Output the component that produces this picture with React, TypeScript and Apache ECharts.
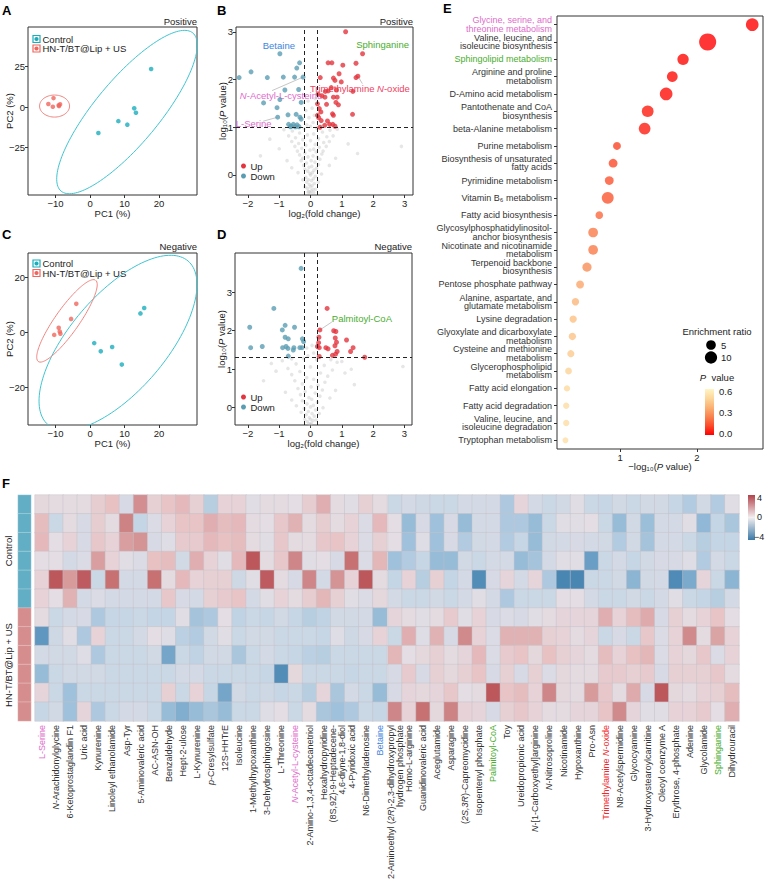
import React, { useEffect, useRef } from 'react';
import * as echarts from 'echarts';

const FONT = "'Liberation Sans', Arial, Helvetica, sans-serif";
const INK = '#222';
const TEAL = '#19AEBB';
const TEAL_LINE = '#3FC4CF';
const SALMON = '#F0665F';
const SALMON_LINE = '#F08580';
const UP = '#E3343F';
const DOWN = '#5A9DB3';

// ---------- A / C : PCA scores (PC1 %, PC2 %) ----------
const pcaPosControl = [[17.7, 23.5], [2.4, -16.0], [8.2, -8.7], [10.8, -10.9], [12.8, -0.8], [13.3, -3.5]];
const pcaPosTreated = [[-12.1, 1.9], [-10.6, 5.5], [-10.8, 0.2], [-9.0, 0.6], [-8.7, 1.7], [-9.1, 1.1]];
const pcaNegControl = [[15.7, 9.0], [14.6, 7.0], [1.2, -3.8], [3.1, -6.8], [6.4, -5.2], [9.2, -11.6]];
const pcaNegTreated = [[-4.0, 10.5], [-5.5, 5.0], [-9.1, 1.8], [-8.8, 0.4], [-8.6, -0.4], [-10.4, -0.8]];

// confidence ellipses: centre, half major-axis vector, half minor-axis vector (data units)
const ellPosControl = { center: [10.7, -3.1], major: [19.1, 48.8], minor: [7.1, -12.7] };
const ellPosTreated = { center: [-10.3, 0.6], major: [4.35, 0], minor: [0, 6.8] };
const ellNegControl = { center: [8.1, -3.7], major: [20.3, 29.8], minor: [10.6, -11.3] };
const ellNegTreated = { center: [-6.7, 4.3], major: [8.3, 14.8], minor: [2.84, -2.5] };

// ---------- B : volcano, positive mode (log2 FC, -log10 P) ----------
const upPos = [
  [1.12, 3.0], [1.66, 2.54], [0.56, 2.35], [0.68, 2.35], [1.03, 2.3], [1.45, 2.34],
  [0.31, 2.04], [0.73, 2.03], [0.78, 1.98], [0.91, 2.12], [0.98, 1.95], [1.45, 2.04], [1.51, 2.07],
  [0.47, 1.75], [0.56, 1.76], [0.66, 1.83], [0.83, 1.78], [1.35, 1.75],
  [0.24, 1.7], [0.36, 1.66], [0.73, 1.63], [0.85, 1.63], [0.81, 1.52], [0.46, 1.63],
  [0.22, 1.49], [0.51, 1.48], [0.89, 1.47],
  [0.28, 1.39], [0.33, 1.32], [0.7, 1.28], [0.73, 1.25], [1.34, 1.27],
  [0.26, 1.2], [0.34, 1.14], [0.54, 1.13], [0.61, 1.06], [0.71, 1.06], [0.78, 1.02], [0.22, 1.25], [0.3, 1.0], [0.45, 1.04],
];
const downPos = [
  [-0.98, 2.54], [-0.35, 2.35], [-0.44, 2.24],
  [-2.28, 2.04], [-1.9, 2.16], [-1.38, 2.04], [-0.87, 2.05], [-0.51, 2.05], [-0.24, 2.05],
  [-0.82, 1.78], [-0.38, 1.79], [-0.98, 1.58], [-1.5, 1.51], [-0.3, 1.52],
  [-1.07, 1.41], [-1.05, 1.21], [-0.72, 1.26], [-0.46, 1.27], [-0.34, 1.21], [-0.3, 1.17],
  [-0.7, 1.06], [-0.62, 1.02], [-0.55, 1.06], [-0.49, 1.01], [-0.43, 1.05], [-0.64, 1.01], [-0.37, 1.01],
];
const grayPos = [
  [-0.05, -0.35], [0.02, -0.33], [0.08, -0.3], [-0.1, -0.28], [0.0, -0.25], [0.05, -0.22], [-0.04, -0.2], [0.12, -0.18],
  [-0.12, -0.15], [0.03, -0.12], [-0.07, -0.1], [0.09, -0.08], [-0.15, -0.05], [0.15, -0.03], [0.0, 0.0], [-0.02, 0.03],
  [0.06, 0.05], [-0.09, 0.08], [0.11, 0.1], [-0.18, 0.12], [0.19, 0.14], [-0.05, 0.16], [0.04, 0.18], [-0.22, 0.2],
  [0.25, 0.22], [-0.13, 0.25], [0.14, 0.27], [-0.3, 0.3], [0.02, 0.3], [0.3, 0.33], [-0.25, 0.35], [0.22, 0.37],
  [-0.08, 0.38], [0.08, 0.4], [-0.35, 0.42], [0.36, 0.44], [-0.18, 0.46], [0.18, 0.48], [-0.42, 0.5], [0.4, 0.5],
  [-0.02, 0.52], [0.1, 0.54], [-0.28, 0.56], [0.28, 0.58], [-0.5, 0.6], [0.5, 0.6], [-0.15, 0.62], [0.15, 0.64],
  [-0.38, 0.66], [0.42, 0.68], [-0.6, 0.7], [0.6, 0.7], [0.0, 0.72], [-0.25, 0.74], [0.25, 0.76], [-0.48, 0.78],
  [0.52, 0.8], [-0.7, 0.82], [0.72, 0.82], [-0.1, 0.84], [0.1, 0.86], [-0.35, 0.88], [0.38, 0.9], [-0.58, 0.92],
  [0.62, 0.94], [-0.85, 0.95], [0.85, 0.96], [-0.2, 0.97], [0.2, 0.98], [-0.45, 0.99],
  [-0.12, 1.05], [0.08, 1.1], [-0.05, 1.2], [0.12, 1.25], [-0.15, 1.35], [0.05, 1.4], [-0.08, 1.55], [0.15, 1.6], [0.0, 1.02],
  [-1.3, 0.75], [1.2, 0.65], [-1.0, 0.55], [2.9, 0.6], [-1.6, 0.4], [1.5, 0.45], [-0.75, 0.3], [0.8, 0.35],
  [-0.6, 0.15], [0.6, 0.2], [-0.4, 0.05], [0.35, 0.02], [-0.25, -0.1], [0.25, -0.15], [-0.18, -0.25], [0.16, -0.3],
  [0.0, -0.38], [-0.08, -0.36], [0.1, -0.37],
];

// ---------- D : volcano, negative mode ----------
const upNeg = [
  [0.53, 2.58], [0.3, 2.02], [0.74, 2.0], [0.81, 1.98], [0.27, 1.83], [0.79, 1.81], [1.15, 1.76], [0.26, 1.69], [0.83, 1.7],
  [0.22, 1.59], [0.28, 1.56], [0.49, 1.56], [0.56, 1.53], [0.78, 1.61], [1.36, 1.56], [1.28, 1.46], [0.85, 1.46],
  [0.8, 1.39], [0.7, 1.36], [0.28, 1.33], [1.73, 1.31],
];
const downNeg = [
  [-0.3, 3.62], [-1.17, 2.58], [-1.94, 2.09], [-0.81, 2.14], [-0.51, 2.09], [-0.9, 2.02], [-0.81, 1.83], [-0.71, 1.79],
  [-0.26, 1.79], [-0.22, 1.72], [-1.91, 1.56], [-1.54, 1.59], [-0.89, 1.56], [-0.78, 1.59], [-0.72, 1.54], [-0.53, 1.56],
  [-0.55, 1.5], [-0.34, 1.56], [-0.27, 1.56], [-0.71, 1.34],
];
const grayNeg = [
  [-0.05, -0.42], [0.03, -0.4], [-0.1, -0.36], [0.08, -0.33], [0.0, -0.3], [-0.04, -0.26], [0.12, -0.22], [-0.14, -0.18],
  [0.05, -0.15], [-0.07, -0.1], [0.16, -0.06], [-0.2, -0.02], [0.0, 0.02], [0.09, 0.06], [-0.11, 0.1], [0.22, 0.14],
  [-0.26, 0.18], [0.04, 0.22], [-0.05, 0.26], [0.3, 0.3], [-0.32, 0.34], [0.15, 0.38], [-0.17, 0.42], [0.38, 0.46],
  [-0.4, 0.5], [0.02, 0.54], [0.24, 0.58], [-0.26, 0.62], [0.46, 0.66], [-0.5, 0.7], [0.1, 0.74], [-0.12, 0.78],
  [0.55, 0.82], [-0.6, 0.86], [0.32, 0.9], [-0.34, 0.94], [0.7, 0.98], [-0.72, 1.02], [0.0, 1.06], [0.44, 1.1],
  [-0.46, 1.14], [0.85, 1.18], [-0.9, 1.22], [0.2, 1.25], [-0.22, 1.28],
  [-0.08, 1.35], [0.1, 1.42], [-0.12, 1.55], [0.05, 1.62],
  [1.1, 0.9], [-1.1, 0.95], [1.4, 0.6], [-1.5, 0.7], [2.95, 1.07], [-0.8, 0.4], [0.8, 0.45], [-0.6, 0.2], [0.62, 0.25],
  [-0.45, 0.05], [0.4, 0.0], [-0.3, -0.12], [0.28, -0.15], [-0.18, -0.3], [0.18, -0.32], [0.0, -0.44],
  [1.0, 1.2], [-1.25, 1.15], [0.65, 1.25], [-0.6, 1.27], [1.3, 1.0],
];

// ---------- E : pathway enrichment ----------
const pathwayNames = [
  'Glycine, serine, and\nthreonine metabolism',
  'Valine, leucine, and\nisoleucine biosynthesis',
  'Sphingolipid metabolism',
  'Arginine and proline\nmetabolism',
  'D-Amino acid metabolism',
  'Pantothenate and CoA\nbiosynthesis',
  'beta-Alanine metabolism',
  'Purine metabolism',
  'Biosynthesis of unsaturated\nfatty acids',
  'Pyrimidine metabolism',
  'Vitamin B\u2086 metabolism',
  'Fatty acid biosynthesis',
  'Glycosylphosphatidylinositol-\nanchor biosynthesis',
  'Nicotinate and nicotinamide\nmetabolism',
  'Terpenoid backbone\nbiosynthesis',
  'Pentose phosphate pathway',
  'Alanine, aspartate, and\nglutamate metabolism',
  'Lysine degradation',
  'Glyoxylate and dicarboxylate\nmetabolism',
  'Cysteine and methionine\nmetabolism',
  'Glycerophospholipid\nmetabolism',
  'Fatty acid elongation',
  'Fatty acid degradation',
  'Valine, leucine, and\nisoleucine degradation',
  'Tryptophan metabolism',
];
const pathwayNegLogP = [2.72, 2.14, 1.82, 1.68, 1.6, 1.36, 1.32, 0.96, 0.91, 0.86, 0.84, 0.73, 0.65, 0.65, 0.57, 0.48, 0.42, 0.39, 0.38, 0.36, 0.33, 0.31, 0.3, 0.3, 0.29];
const pathwayRatio = [10.9, 24, 8.0, 6.9, 10.9, 8.8, 8.8, 2.6, 3.6, 3.6, 9.3, 2.3, 5.1, 5.1, 4.2, 2.6, 2.0, 2.0, 2.0, 1.8, 1.5, 1.1, 1.1, 1.1, 0.8];
const pathwayTone = ['#E06CCB', '#333', '#49AD2E'];

// ---------- F : heatmap of z-scored metabolites ----------
const leftMetabolites = [
  'L-Serine', '*N*-Arachidonylglycine', '6-Ketoprostaglandin F1', 'Uric acid', 'Kynurenine', 'Linoleyl ethanolamide',
  'Asp-Tyr', '5-Aminovaleric acid', 'AC-ASN-OH', 'Benzaldehyde', 'Hept-2-ulose', 'L-Kynurenine', '*p*-Cresylsulfate',
  '12S-HHTrE', 'Isoleucine', '1-Methylhypoxanthine', '3-Dehydrosphingosine', 'L-Threonine', '*N*-Acetyl-L-cysteine',
  '2-Amino-1,3,4-octadecanetriol', 'Hexahydropyridine', '(8S,9Z)-9-Heptadecene-\n4,6-diyne-1,8-diol', '4-Pyridoxic acid',
  'N6-Dimethyladenosine', 'Betaine',
];
const rightMetabolites = [
  '2-Aminoethyl (*2R*)-2,3-dihydroxypropyl\nhydrogen phosphate', 'Homo-L-arginine', 'Guanidinovaleric acid', 'Aceglutamide',
  'Asparagine', '(*2S,3R*)-Capreomycidine', 'Isopentenyl phosphate', 'Palmitoyl-CoA', 'Toy', 'Ureidopropionic acid',
  '*N*-[1-Carboxyethyl]arginine', '*N*-Nitrosoproline', 'Nicotinamide', 'Hypoxanthine', 'Pro-Asn', 'Trimethylamine *N*-oxide',
  'N8-Acetylspermidine', 'Glycocyamine', '3-Hydroxystearoylcarnitine', 'Oleoyl coenzyme A', 'Erythrose, 4-phosphate',
  'Adenine', 'Glycolamide', 'Sphinganine', 'Dihydrouracil',
];
const highlighted: Record<string, string> = {
  'L-Serine': 'p', '*N*-Acetyl-L-cysteine': 'p', 'Betaine': 'b', 'Palmitoyl-CoA': 'g',
  'Trimethylamine *N*-oxide': 'r', 'Sphinganine': 'g',
};
// sample groups: first six rows Control, last six HN-T/BT@Lip + US
const sampleGroup = [0, 0, 0, 0, 0, 0, 1, 1, 1, 1, 1, 1];
const heatLeft = [
  [0.2, 0.1, 0.1, 0.1, 0.6, 1.0, -0.4, 2.3, 0.5, 0.9, 1.2, 0.5, -1.3, 0.4, 0.4, -0.1, 0.1, 0.1, 0.0, 0.6, 1.5, 0.1, -0.1, 0.5, 0.1],
  [1.1, -0.8, 0.1, -0.4, 0.6, 0.1, 2.6, -1.0, -0.3, 0.4, 0.9, 0.9, 1.5, 1.1, 1.2, 0.1, 0.0, 0.8, 1.4, 0.1, 0.6, 0.1, 0.4, -0.3, 1.2],
  [1.2, 0.0, 0.4, -0.4, 0.8, 0.4, 1.9, 2.2, -0.4, -0.2, 0.7, 0.7, 1.2, 1.0, 1.1, 0.1, -0.1, 0.8, 0.1, 0.1, 0.8, 0.9, 0.4, -0.3, 0.5],
  [0.0, 0.0, -0.5, -0.3, 1.9, 0.4, -0.1, -0.3, 1.0, 1.1, -0.6, 1.5, 0.4, -0.1, 1.2, 3.6, 0.1, 0.8, 2.5, -0.1, 0.0, -0.4, 3.0, -0.3, 1.3],
  [0.4, 3.6, 2.0, 3.5, -0.8, 3.0, -0.5, -0.5, 3.0, 0.1, 1.2, 0.4, 0.5, 0.5, -0.7, -0.1, 3.5, 0.1, -0.4, 2.5, -0.5, 2.2, 0.4, 3.6, 0.1],
  [0.4, 0.0, 1.4, -0.5, -0.3, -0.5, -0.5, -0.5, -0.5, 0.8, -0.4, -0.5, 0.5, 0.7, 0.9, -0.5, -0.1, 0.4, 0.1, 0.6, 1.3, 0.5, -0.1, -0.3, 0.2],
  [0.1, -0.8, -0.5, -0.4, -1.5, -0.9, -0.9, -0.8, -1.0, -1.0, -0.1, -1.7, -1.5, 0.0, -1.1, -0.8, -0.9, -0.6, -0.9, -1.3, -1.1, -0.6, -0.6, -0.5, -2.0],
  [-3.0, -0.7, -0.1, -1.5, 0.4, -0.8, -0.8, -0.5, 0.0, -0.2, -1.2, -1.4, -0.6, -0.1, -0.8, -0.6, -0.6, -0.8, -0.8, -0.8, -0.9, -0.2, -0.7, -0.4, 0.4],
  [-0.5, -0.6, -0.6, -0.2, -1.5, -0.8, -0.8, -0.8, -0.6, -2.6, -0.8, -1.1, -0.6, -0.6, -1.6, -0.8, -0.5, -0.8, -0.9, -1.2, -1.3, -0.8, -0.8, -0.8, -0.8],
  [-2.0, -0.8, -0.6, -0.6, -0.6, -0.8, -0.8, -0.8, -0.8, -0.8, -0.5, -0.5, -0.8, -0.8, -0.8, -0.8, -0.9, -3.4, 0.2, -0.8, -0.8, -0.8, -0.9, -0.8, -0.8],
  [0.3, -0.8, -1.8, -0.8, -0.8, -0.8, -0.8, -0.8, -0.8, 0.5, -0.8, 0.4, -0.9, -2.6, -0.6, -0.8, -0.7, -0.9, -0.8, -1.3, 0.3, -1.6, -0.5, -0.8, -2.0],
  [-0.9, -0.6, -1.8, 0.3, -1.5, -0.8, -0.5, -0.5, -0.8, -2.0, -2.4, -2.0, -1.6, -2.0, -0.8, -0.8, -0.2, 0.0, -0.8, 0.1, -1.6, -1.8, -1.5, -0.8, -0.9],
];
const heatRight = [
  [-0.8, -0.5, -0.7, -0.8, -0.8, -0.5, -0.5, -0.5, -1.5, 0.3, -0.5, -0.8, -0.6, -0.1, -0.8, -0.9, -0.6, -0.8, -0.6, -0.6, -0.9, -1.4, -0.6, -1.4, -0.1],
  [0.0, -2.0, -0.4, -1.8, -0.4, -2.0, -0.5, -0.5, -1.5, -1.5, -2.0, -0.8, -0.1, -0.1, 0.0, -0.8, -2.0, -0.6, -1.9, -0.5, -0.5, -0.1, -2.1, -1.0, -1.6],
  [0.0, -1.8, -0.2, -1.8, -0.4, -1.4, -0.6, -0.5, -1.4, -0.9, -2.0, -0.6, -0.5, -0.4, -0.5, -0.6, -1.4, -0.6, -1.7, -0.5, -0.5, -0.8, -1.3, -1.0, -1.0],
  [-1.8, -1.4, -0.9, -2.0, -2.0, -0.6, -0.8, -0.5, -0.5, -2.0, -1.7, -0.5, -0.1, -0.1, -2.8, -0.8, -0.5, -0.9, -0.6, -0.4, -0.4, -0.2, -1.4, -0.5, -0.8],
  [-1.0, 0.4, -1.3, 0.5, -1.0, -0.5, -3.4, -0.4, 0.3, -0.5, 0.3, -1.5, -3.7, -3.7, -0.8, -0.8, -0.6, -2.2, -0.6, -0.5, -3.5, -2.5, 0.3, -0.8, -2.2],
  [-0.5, -0.8, -0.8, -0.6, -0.8, -0.5, -0.1, -0.5, -1.5, -0.8, -0.8, -0.8, 0.0, 0.0, -0.5, -0.8, -0.8, -0.6, -0.8, -0.5, -0.1, -0.8, -1.0, -1.3, -0.5],
  [0.3, 0.1, -0.1, 0.1, 0.7, -0.1, 0.4, -0.4, -0.3, -0.4, -0.1, 0.1, 0.3, 0.3, 0.3, 1.5, 0.4, 1.1, 1.6, -0.4, 0.5, 0.1, 0.4, 0.9, 0.0],
  [-0.8, 1.5, -0.2, 1.4, -0.4, 2.4, 0.4, -0.3, 1.4, 1.4, 1.4, 0.5, 0.4, 0.1, 0.3, -0.8, -0.4, -0.8, 0.8, -0.3, 0.4, 2.4, 0.1, 1.8, 0.4],
  [1.3, 0.0, 0.2, 0.5, 0.1, 0.3, 1.2, -0.3, 0.7, 0.9, 0.2, 1.0, 0.5, 0.3, 0.1, 1.1, 0.4, 1.0, 1.3, -0.3, 0.4, 0.2, 0.8, -0.3, 0.4],
  [-0.4, 0.7, -0.4, 0.5, 0.2, 0.5, 0.9, -0.4, 0.5, -0.4, 0.5, -0.3, 0.2, 0.1, 0.1, 0.7, 0.7, 0.5, 0.7, -0.4, 0.5, 0.5, 0.5, 0.8, 0.1],
  [-0.4, 0.3, 0.2, 0.3, 0.8, 0.0, 0.1, 3.6, 0.9, 1.1, 0.4, 2.5, 0.2, 0.1, 2.0, 0.8, 0.1, 1.6, -0.4, 3.6, 0.2, 0.1, 0.4, 0.5, 1.1],
  [2.5, 0.4, 3.0, 0.2, 2.6, 0.4, 0.3, -0.4, 0.5, 0.8, 0.4, 0.1, 0.1, 0.3, 0.3, 0.9, 2.4, 0.3, -0.1, -0.1, 0.4, 0.4, 0.7, 0.0, 1.5],
];

// labelled metabolites on the volcano plots
const volcanoNotes = [
  { grid: 1, point: [-0.98, 2.54], text: 'Betaine', color: '#3D86E0', dx: -1, dy: -8 },
  { grid: 1, point: [1.66, 2.54], text: 'Sphinganine', color: '#49AD2E', dx: 20, dy: -9 },
  { grid: 1, point: [-0.24, 2.05], text: '{i|N}-Acetyl-L-cysteine', color: '#E06CCB', dx: -22, dy: 18, line: [-31, 13.5] },
  { grid: 1, point: [1.51, 2.07], text: 'Trimethylamine {i|N}-oxide', color: '#EE4262', dx: 2, dy: 12, line: [4.5, 7.5] },
  { grid: 1, point: [-1.05, 1.21], text: 'L-Serine', color: '#E06CCB', dx: -24, dy: 6, line: [-14.5, 4] },
  { grid: 3, point: [0.3, 2.02], text: 'Palmitoyl-CoA', color: '#49AD2E', dx: 42, dy: -11, line: [12, -8] },
];

const HEAT_COLORS = ['#3F7FAC', '#5F97C0', '#97BCD8', '#C4D5E5', '#E4DEE4', '#E8C1C3', '#D79B9C', '#C77173', '#B5454C'];
const P_COLORS = ['#FF0000', '#FB4A2A', '#F9834E', '#FBB173', '#FDD79B', '#FFF5C4'];
const toneColor: Record<string, string> = { k: '#333', p: '#E06CCB', b: '#3D7FE0', g: '#49AD2E', r: '#F0282C' };

const dotSize = (ratio: number) => 3.4 + 2.8 * Math.sqrt(ratio);

function ellipsePoints(e: { center: number[]; major: number[]; minor: number[] }) {
  const pts: number[][] = [];
  for (let k = 0; k <= 144; k++) {
    const t = (k / 144) * Math.PI * 2;
    pts.push([
      e.center[0] + e.major[0] * Math.cos(t) + e.minor[0] * Math.sin(t),
      e.center[1] + e.major[1] * Math.cos(t) + e.minor[1] * Math.sin(t),
    ]);
  }
  return pts;
}

function richLabel(label: string) {
  const tone = highlighted[label] || 'k';
  return label
    .split('*')
    .map((part, k) => (part ? `{${tone}${k % 2 ? 'I' : 'N'}|${part}}` : ''))
    .join('');
}

function heatRich(size: number) {
  const rich: Record<string, any> = {};
  Object.keys(toneColor).forEach((t) => {
    rich[t + 'N'] = { color: toneColor[t], fontSize: size, fontFamily: FONT, lineHeight: size };
    rich[t + 'I'] = { color: toneColor[t], fontSize: size, fontFamily: FONT, lineHeight: size, fontStyle: 'italic' };
  });
  return rich;
}

const nameRich = (size: number) => ({
  n: { fontSize: size, fontFamily: FONT, color: INK },
  i: { fontSize: size, fontFamily: FONT, color: INK, fontStyle: 'italic' },
});

function valAxis(gridIndex: number, min: number, max: number, ticks: number[], extra: any = {}) {
  return {
    type: 'value',
    gridIndex,
    min,
    max,
    splitLine: { show: false },
    axisLine: { show: false, onZero: false },
    axisTick: { show: true, length: 3, customValues: ticks, lineStyle: { color: '#333', width: 1 } },
    axisLabel: {
      customValues: ticks,
      fontSize: 9.5,
      color: INK,
      fontFamily: FONT,
      margin: 3,
      formatter: (v: number) => (v < 0 ? '\u2212' : '') + Math.abs(v),
    },
    nameLocation: 'middle',
    nameMoveOverlap: false,
    nameTextStyle: { fontSize: 9.5, color: INK, fontFamily: FONT, rich: nameRich(9.5) },
    ...extra,
  };
}

function catAxis(gridIndex: number, data: string[], extra: any = {}) {
  return {
    type: 'category',
    gridIndex,
    data,
    splitLine: { show: false },
    axisLine: { show: false },
    axisTick: { show: false },
    axisLabel: { show: false },
    ...extra,
  };
}

function buildOption() {
  const series: any[] = [];
  const add = (s: any) => {
    series.push({ silent: true, ...s });
    return series.length - 1;
  };
  const pcaScatter = (g: number, data: number[][], color: string) =>
    add({ type: 'scatter', xAxisIndex: g, yAxisIndex: g, data, symbolSize: 4.6, itemStyle: { color } });
  const ellipse = (g: number, e: any, color: string) =>
    add({
      type: 'line', xAxisIndex: g, yAxisIndex: g, data: ellipsePoints(e), showSymbol: false, symbol: 'none',
      clip: true, lineStyle: { color, width: 1 },
    });

  // A, C
  ellipse(0, ellPosControl, TEAL_LINE);
  ellipse(0, ellPosTreated, SALMON_LINE);
  pcaScatter(0, pcaPosControl, TEAL);
  pcaScatter(0, pcaPosTreated, SALMON);
  ellipse(2, ellNegControl, TEAL_LINE);
  ellipse(2, ellNegTreated, SALMON_LINE);
  pcaScatter(2, pcaNegControl, TEAL);
  pcaScatter(2, pcaNegTreated, SALMON);

  // B, D
  const volcano = (g: number, gray: number[][], down: number[][], up: number[][], pCut: number) => {
    add({
      type: 'scatter', xAxisIndex: g, yAxisIndex: g, data: gray, symbolSize: 3.6,
      itemStyle: { color: 'rgba(185,185,185,0.45)' },
      markLine: {
        silent: true, symbol: 'none', label: { show: false },
        lineStyle: { type: [4, 3], color: '#222', width: 1 },
        data: [{ xAxis: -0.2 }, { xAxis: 0.2 }, { yAxis: pCut }],
      },
    });
    add({ type: 'scatter', xAxisIndex: g, yAxisIndex: g, data: down, symbolSize: 5, itemStyle: { color: DOWN } });
    add({ type: 'scatter', xAxisIndex: g, yAxisIndex: g, data: up, symbolSize: 5, itemStyle: { color: UP } });
  };
  volcano(1, grayPos, downPos, upPos, 1);
  volcano(3, grayNeg, downNeg, upNeg, 1.3);

  // E
  const eIdx = add({
    type: 'scatter', xAxisIndex: 4, yAxisIndex: 4,
    data: pathwayNames.map((_, i) => [pathwayNegLogP[i], i, pathwayRatio[i], Math.pow(10, -pathwayNegLogP[i])]),
    symbolSize: (v: number[]) => dotSize(v[2]),
  });

  // F
  const cells = (m: number[][]) => m.flatMap((row, r) => row.map((v, c) => [c, r, v]));
  const heatStyle = { borderColor: 'rgba(196,194,200,0.9)', borderWidth: 0.5 };
  const hl = add({ type: 'heatmap', xAxisIndex: 5, yAxisIndex: 5, data: cells(heatLeft), itemStyle: heatStyle });
  const hr = add({ type: 'heatmap', xAxisIndex: 6, yAxisIndex: 6, data: cells(heatRight), itemStyle: heatStyle });
  const ann = add({
    type: 'heatmap', xAxisIndex: 7, yAxisIndex: 7, data: sampleGroup.map((g, r) => [0, r, g]),
    itemStyle: { borderColor: 'rgba(255,255,255,0.55)', borderWidth: 0.5 },
  });

  const rows = sampleGroup.map((_, i) => 'S' + (i + 1));
  const box = { show: true, borderColor: '#333', borderWidth: 1, backgroundColor: 'transparent', containLabel: false, outerBoundsMode: 'none' };
  const plain = { show: false, containLabel: false, outerBoundsMode: 'none' };
  const heatX = (g: number, names: string[]) =>
    catAxis(g, names, {
      axisLabel: {
        show: true, interval: 0, rotate: 90, margin: 4, fontSize: 9, fontFamily: FONT, color: '#333',
        formatter: (v: string) => richLabel(v), rich: heatRich(9),
      },
    });

  return {
    animation: false,
    backgroundColor: '#ffffff',
    textStyle: { fontFamily: FONT },
    grid: [
      { left: 28, top: 27, width: 169, height: 168, ...box },
      { left: 236, top: 27, width: 177, height: 168, ...box },
      { left: 28, top: 253, width: 169, height: 172, ...box },
      { left: 235, top: 253, width: 177, height: 172, ...box },
      { left: 557, top: 16, width: 206, height: 433, ...box },
      { left: 35, top: 495, width: 352, height: 226, ...plain },
      { left: 388, top: 495, width: 351, height: 226, ...plain },
      { left: 18, top: 495, width: 13, height: 226, ...plain },
    ],
    xAxis: [
      valAxis(0, -18, 31, [-10, 0, 10, 20], { name: 'PC1 (%)', nameGap: 13 }),
      valAxis(1, -2.38, 3.27, [-2, -1, 0, 1, 2, 3], { name: 'log\u2082(fold change)', nameGap: 13 }),
      valAxis(2, -18, 31, [-10, 0, 10, 20], { name: 'PC1 (%)', nameGap: 13 }),
      valAxis(3, -2.41, 3.24, [-2, -1, 0, 1, 2, 3], { name: 'log\u2082(fold change)', nameGap: 13 }),
      valAxis(4, 0.18, 2.86, [1, 2], { name: '{n|\u2212log\u2081\u2080(}{i|P}{n| value)}', nameGap: 12 }),
      heatX(5, leftMetabolites),
      heatX(6, rightMetabolites),
      catAxis(7, ['group']),
    ],
    yAxis: [
      valAxis(0, -54.3, 49.4, [-25, 0, 25], { name: 'PC2 (%)', nameGap: 13.5 }),
      valAxis(1, -0.42, 3.1, [0, 1, 2, 3], { name: '{n|log\u2081\u2080(}{i|P}{n| value)}', nameGap: 9 }),
      valAxis(2, -33.6, 29, [-20, 0, 20], { name: 'PC2 (%)', nameGap: 13.5 }),
      valAxis(3, -0.45, 4.02, [0, 1, 2, 3], { name: '{n|log\u2081\u2080(}{i|P}{n| value)}', nameGap: 9 }),
      catAxis(4, pathwayNames, {
        inverse: true,
        axisTick: { show: true, alignWithLabel: true, length: 3, lineStyle: { color: '#333' } },
        axisLabel: {
          show: true, interval: 0, fontSize: 9, lineHeight: 8.5, margin: 5, fontFamily: FONT,
          color: (_: string, i: number) => (i < 3 ? pathwayTone[i] : '#333'),
        },
      }),
      catAxis(5, rows, { inverse: true }),
      catAxis(6, rows, { inverse: true }),
      catAxis(7, rows, { inverse: true }),
    ],
    visualMap: [
      { type: 'continuous', show: false, min: -4, max: 4, dimension: 2, seriesIndex: [hl, hr], inRange: { color: HEAT_COLORS } },
      {
        type: 'piecewise', show: false, dimension: 2, seriesIndex: [ann],
        pieces: [{ value: 0, color: '#62AEC5' }, { value: 1, color: '#D68D8E' }],
      },
      { type: 'continuous', show: false, min: 0, max: 0.6, dimension: 3, seriesIndex: [eIdx], inRange: { color: P_COLORS } },
    ],
    series,
  };
}

function buildGraphics(chart: any) {
  const g: any[] = [];
  const text = (x: number, y: number, t: string, style: any = {}) =>
    g.push({
      type: 'text', x, y, silent: true,
      style: { text: t, fill: INK, fontSize: 9.5, fontFamily: FONT, align: 'left', verticalAlign: 'middle', ...style },
    });

  // panel letters
  ([['A', 2, 10], ['B', 217, 10], ['C', 2, 234], ['D', 217, 234], ['E', 443, 8], ['F', 2, 483]] as any[]).forEach(
    ([t, x, y]) => text(x, y, t, { fontSize: 13, fontWeight: 'bold', fill: '#000' }),
  );
  // ionisation mode tags
  text(197, 21, 'Positive', { align: 'right' });
  text(413, 21, 'Positive', { align: 'right' });
  text(197, 246, 'Negative', { align: 'right' });
  text(412, 246, 'Negative', { align: 'right' });

  // PCA legends
  const pcaLegend = (y0: number) => {
    [
      { y: y0, fill: TEAL, label: 'Control' },
      { y: y0 + 9.5, fill: SALMON, label: 'HN-T/BT@Lip + US' },
    ].forEach((it) => {
      g.push({
        type: 'rect', silent: true, shape: { x: 33, y: it.y - 3.5, width: 7, height: 7 },
        style: { fill: 'rgba(255,255,255,0.6)', stroke: it.fill, lineWidth: 1.2 },
      });
      g.push({ type: 'circle', silent: true, shape: { cx: 36.5, cy: it.y, r: 2.1 }, style: { fill: it.fill } });
      text(42.5, it.y, it.label);
    });
  };
  pcaLegend(39);
  pcaLegend(263.5);

  // volcano legends
  const volLegend = (y0: number) => {
    g.push({ type: 'circle', silent: true, shape: { cx: 243.5, cy: y0, r: 2.5 }, style: { fill: UP } });
    g.push({ type: 'circle', silent: true, shape: { cx: 243.5, cy: y0 + 10, r: 2.5 }, style: { fill: DOWN } });
    text(250.5, y0, 'Up');
    text(250.5, y0 + 10, 'Down');
  };
  volLegend(166);
  volLegend(397);

  // volcano annotations anchored on their data points
  volcanoNotes.forEach((n: any) => {
    const [px, py] = chart.convertToPixel({ gridIndex: n.grid }, n.point);
    if (n.line) {
      g.push({
        type: 'line', silent: true,
        shape: { x1: px, y1: py, x2: px + n.line[0], y2: py + n.line[1] },
        style: { stroke: '#A0A0A0', lineWidth: 0.6 },
      });
    }
    g.push({
      type: 'text', silent: true, x: px + n.dx, y: py + n.dy,
      style: {
        text: n.text, fill: n.color, fontSize: 9.5, fontFamily: FONT, align: 'center', verticalAlign: 'middle',
        rich: { i: { fontSize: 9.5, fontFamily: FONT, fill: n.color, fontStyle: 'italic' } },
      },
    });
  });

  // enrichment legend
  text(717, 331, 'Enrichment ratio', { align: 'center' });
  [5, 10].forEach((r, k) => {
    const cy = 345 + k * 12.5;
    g.push({ type: 'circle', silent: true, shape: { cx: 711, cy, r: dotSize(r) / 2 }, style: { fill: '#000' } });
    text(721, cy, String(r));
  });
  g.push({
    type: 'text', x: 717, y: 377, silent: true,
    style: {
      text: '{i|P}  value', fill: INK, fontSize: 9.5, fontFamily: FONT, align: 'center', verticalAlign: 'middle',
      rich: { i: { fontSize: 9.5, fontFamily: FONT, fill: INK, fontStyle: 'italic' } },
    },
  });
  g.push({
    type: 'rect', silent: true, shape: { x: 705, y: 389, width: 9, height: 46 },
    style: {
      fill: {
        type: 'linear', x: 0, y: 0, x2: 0, y2: 1,
        colorStops: P_COLORS.slice().reverse().map((c, i, a) => ({ offset: i / (a.length - 1), color: c })),
      },
    },
  });
  text(719, 391, '0.6');
  text(719, 412, '0.3');
  text(719, 433, '0.0');

  // heatmap colour key
  g.push({
    type: 'rect', silent: true, shape: { x: 748, y: 495, width: 7, height: 45 },
    style: {
      fill: {
        type: 'linear', x: 0, y: 0, x2: 0, y2: 1,
        colorStops: [
          { offset: 0, color: '#B2424A' },
          { offset: 0.5, color: '#F3EEEF' },
          { offset: 1, color: '#3B79A8' },
        ],
      },
    },
  });
  text(757, 498, '4', { fontSize: 9 });
  text(757, 517, '0', { fontSize: 9 });
  text(754, 537, '\u22124', { fontSize: 9 });

  // sample group labels
  g.push({
    type: 'text', x: 8, y: 551, rotation: Math.PI / 2, silent: true,
    style: { text: 'Control', fill: INK, fontSize: 9.5, fontFamily: FONT, align: 'center', verticalAlign: 'middle' },
  });
  g.push({
    type: 'text', x: 8, y: 665, rotation: Math.PI / 2, silent: true,
    style: { text: 'HN-T/BT@Lip + US', fill: INK, fontSize: 9.5, fontFamily: FONT, align: 'center', verticalAlign: 'middle' },
  });
  return g;
}

export default function App() {
  const ref = useRef<HTMLDivElement>(null);
  useEffect(() => {
    if (!ref.current) return;
    const chart = echarts.init(ref.current, undefined, { renderer: 'svg' });
    chart.setOption(buildOption() as any);
    chart.setOption({ graphic: buildGraphics(chart) } as any);
    return () => chart.dispose();
  }, []);
  return <div ref={ref} style={{ position: 'absolute', left: 0, top: 0, width: 766, height: 889 }} />;
}
